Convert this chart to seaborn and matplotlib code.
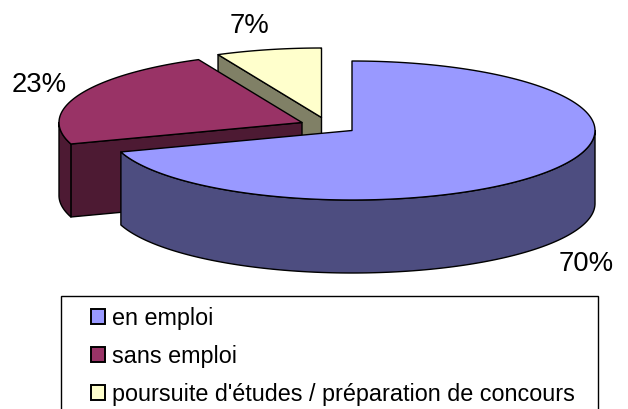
import numpy as np
import matplotlib
matplotlib.use("Agg")
import matplotlib.pyplot as plt
from matplotlib.patches import Patch, Rectangle
import seaborn as sns

categories = ["en emploi", "sans emploi", "poursuite d'études / préparation de concours"]
values = [70, 23, 7]
top_colors = ["#9999FF", "#993366", "#FFFFCC"]
side_colors = ["#4D4D80", "#4D1A33", "#808066"]

sns.set_theme(style="white")
plt.rcParams['font.family'] = ['Liberation Sans', 'DejaVu Sans']

fig = plt.figure(figsize=(6.28, 4.09), dpi=100)
ax = fig.add_axes([0, 0, 1, 1])
ax.set_xlim(0, 628)
ax.set_ylim(409, 0)
ax.axis("off")

RX, RY, DEPTH = 243, 69.5, 73
centers = [(352, 130.5), (302, 122.5), (321.5, 117.5)]
edges = np.concatenate([[0], np.cumsum(values)]) / sum(values) * 360
LW = 1.0


def arc(c, a, b, dz=0, n=160):
    t = np.radians(np.linspace(a, b, n))
    return np.c_[c[0] + RX * np.sin(t), c[1] - RY * np.cos(t) + dz]


def poly(pts, color, z):
    ax.fill(pts[:, 0], pts[:, 1], facecolor=color, edgecolor="black", lw=LW,
            joinstyle="round", zorder=z)


def wedge(i, z):
    c, a, b = centers[i], edges[i], edges[i + 1]
    # cut face that looks toward the viewer
    if i > 0:
        p = arc(c, a, a, n=1)[0]
        q = np.array(c)
        poly(np.array([p, q, q + [0, DEPTH], p + [0, DEPTH]]), side_colors[i], z)
    # outer rim, only where the ellipse faces down
    lo, hi = max(a, 90), min(b, 270)
    if lo < hi:
        poly(np.r_[arc(c, lo, hi), arc(c, hi, lo, DEPTH)], side_colors[i], z + 0.1)
    # top face
    poly(np.r_[[c], arc(c, a, b)], top_colors[i], z + 0.2)


for i, z in zip([2, 1, 0], [1, 2, 3]):
    wedge(i, z)

label_pos = [(586, 264), (39, 85), (249.5, 26)]
for v, (x, y) in zip(values, label_pos):
    ax.text(x, y, f"{v}%", ha="center", va="center", fontsize=19.8, color="black")

ax.add_patch(Rectangle((60.5, 295.5), 537, 120, facecolor="white", edgecolor="black", lw=1, zorder=4))
handles = [Patch(facecolor=t, edgecolor="black", lw=1.4) for t in top_colors]
ax.legend(handles, categories, loc="upper left", bbox_to_anchor=(84 / 628, 1 - 300 / 409),
          frameon=False, fontsize=16.8, handlelength=0.6, handleheight=0.6,
          handletextpad=0.3, labelspacing=0.64, borderpad=0.3, borderaxespad=0,
          labelcolor="black").set_zorder(5)

fig.savefig("out.png", dpi=100)
